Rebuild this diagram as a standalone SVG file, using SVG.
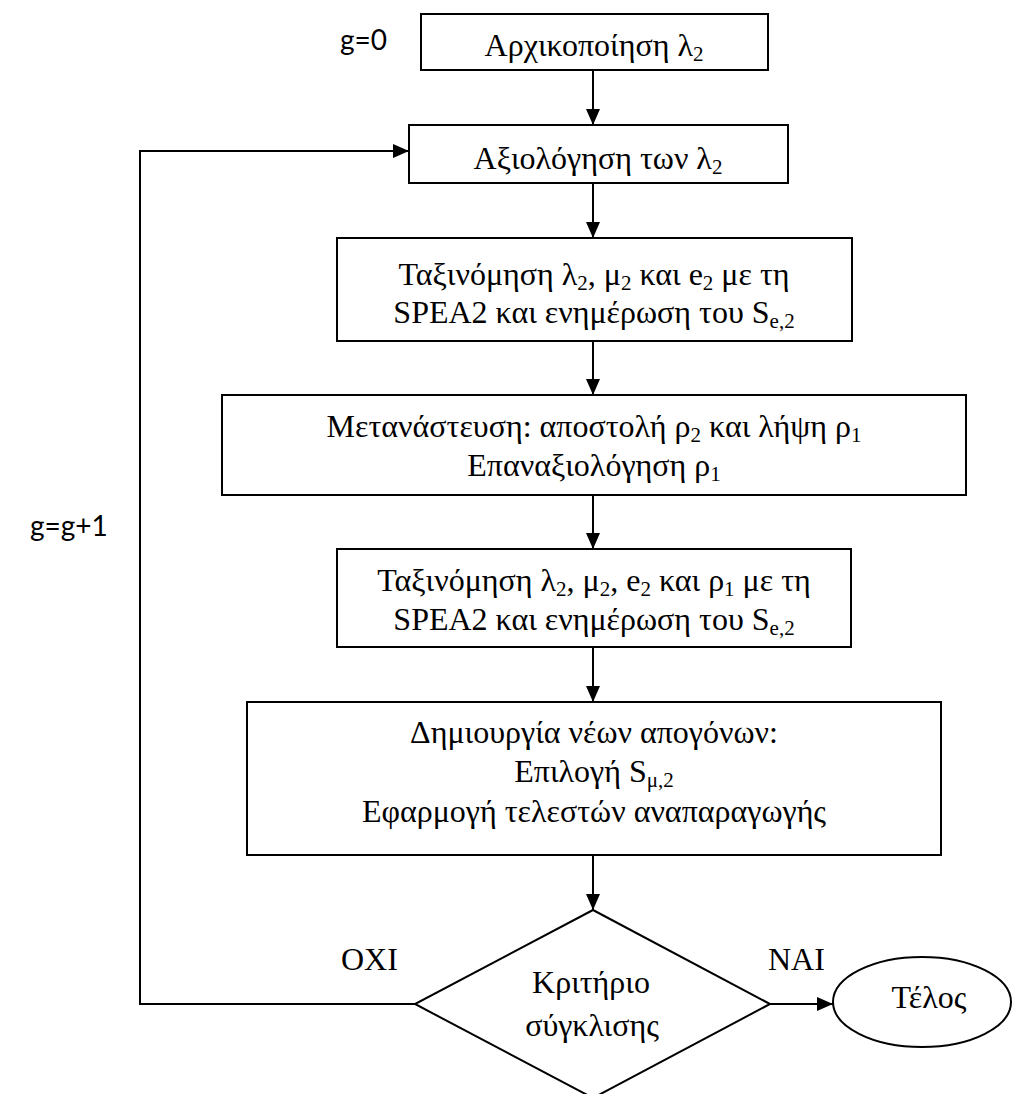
<svg xmlns="http://www.w3.org/2000/svg" width="1012" height="1094" viewBox="0 0 1012 1094">
  <style>
    .box { fill: #ffffff; stroke: #000000; stroke-width: 2; }
    .wire { fill: none; stroke: #000000; stroke-width: 2; }
    .t { font-family: "Liberation Serif", "Times New Roman", serif; font-size: 32px; fill: #000000; }
    .c { text-anchor: middle; }
    .lbl { font-family: Lato, "Liberation Sans", sans-serif; font-size: 28px; fill: #000000; }
    .sub { font-size: 21px; }
  </style>
  <defs>
    <marker id="arrow" markerUnits="userSpaceOnUse" markerWidth="16" markerHeight="14" refX="16" refY="7" orient="auto">
      <path d="M0,0 L16,7 L0,14 Z" fill="#000000"/>
    </marker>
  </defs>
  <rect width="1012" height="1094" fill="#ffffff"/>

  <!-- side labels -->
  <text class="lbl" x="340" y="50">g=0</text>
  <text class="lbl" x="30" y="536">g=g+1</text>

  <!-- connectors -->
  <g id="connectors">
    <line class="wire" x1="593" y1="70" x2="593" y2="125" marker-end="url(#arrow)"/>
    <line class="wire" x1="593" y1="183" x2="593" y2="238" marker-end="url(#arrow)"/>
    <line class="wire" x1="593" y1="341" x2="593" y2="395" marker-end="url(#arrow)"/>
    <line class="wire" x1="593" y1="495" x2="593" y2="549" marker-end="url(#arrow)"/>
    <line class="wire" x1="593" y1="647" x2="593" y2="702" marker-end="url(#arrow)"/>
    <line class="wire" x1="593" y1="855" x2="593" y2="910" marker-end="url(#arrow)"/>
    <line class="wire" x1="770" y1="1004" x2="833" y2="1004" marker-end="url(#arrow)"/>
    <polyline class="wire" points="415,1004 140,1004 140,151 409,151" marker-end="url(#arrow)"/>
    <text class="t" x="341" y="970">ΟΧΙ</text>
    <text class="t" x="768" y="970">ΝΑΙ</text>
  </g>

  <g id="init">
    <rect class="box" x="421" y="14" width="347" height="56"/>
    <text class="t c" x="594" y="56">Αρχικοποίηση λ<tspan class="sub" dy="5">2</tspan></text>
  </g>

  <g id="evaluate">
    <rect class="box" x="409" y="125" width="379" height="58"/>
    <text class="t c" x="598" y="169">Αξιολόγηση των λ<tspan class="sub" dy="5">2</tspan></text>
  </g>

  <g id="sort1">
    <rect class="box" x="337" y="238" width="515" height="103"/>
    <text class="t c" x="594" y="285">Ταξινόμηση λ<tspan class="sub" dy="5">2</tspan><tspan dy="-5">, μ</tspan><tspan class="sub" dy="5">2</tspan><tspan dy="-5"> και e</tspan><tspan class="sub" dy="5">2</tspan><tspan dy="-5"> με τη</tspan></text>
    <text class="t c" x="594" y="323">SPEA2 και ενημέρωση του S<tspan class="sub" dy="5">e,2</tspan></text>
  </g>

  <g id="migrate">
    <rect class="box" x="222" y="395" width="744" height="100"/>
    <text class="t c" x="594" y="437">Μετανάστευση: αποστολή ρ<tspan class="sub" dy="5">2</tspan><tspan dy="-5"> και λήψη ρ</tspan><tspan class="sub" dy="5">1</tspan></text>
    <text class="t c" x="594" y="476">Επαναξιολόγηση ρ<tspan class="sub" dy="5">1</tspan></text>
  </g>

  <g id="sort2">
    <rect class="box" x="337" y="549" width="514" height="98"/>
    <text class="t c" x="594" y="591">Ταξινόμηση λ<tspan class="sub" dy="5">2</tspan><tspan dy="-5">, μ</tspan><tspan class="sub" dy="5">2</tspan><tspan dy="-5">, e</tspan><tspan class="sub" dy="5">2</tspan><tspan dy="-5"> και ρ</tspan><tspan class="sub" dy="5">1</tspan><tspan dy="-5"> με τη</tspan></text>
    <text class="t c" x="594" y="630">SPEA2 και ενημέρωση του S<tspan class="sub" dy="5">e,2</tspan></text>
  </g>

  <g id="offspring">
    <rect class="box" x="247" y="702" width="694" height="153"/>
    <text class="t c" x="594" y="743">Δημιουργία νέων απογόνων:</text>
    <text class="t c" x="594" y="782">Επιλογή S<tspan class="sub" dy="5">μ,2</tspan></text>
    <text class="t c" x="594" y="822">Εφαρμογή τελεστών αναπαραγωγής</text>
  </g>

  <g id="convergence">
    <polygon class="box" points="593,910 770,1004 593,1098 415,1004"/>
    <text class="t c" x="591" y="993">Κριτήριο</text>
    <text class="t c" x="592" y="1036">σύγκλισης</text>
  </g>

  <g id="end">
    <ellipse class="box" cx="922" cy="1002" rx="89" ry="45"/>
    <text class="t c" x="929" y="1008">Τέλος</text>
  </g>
</svg>
